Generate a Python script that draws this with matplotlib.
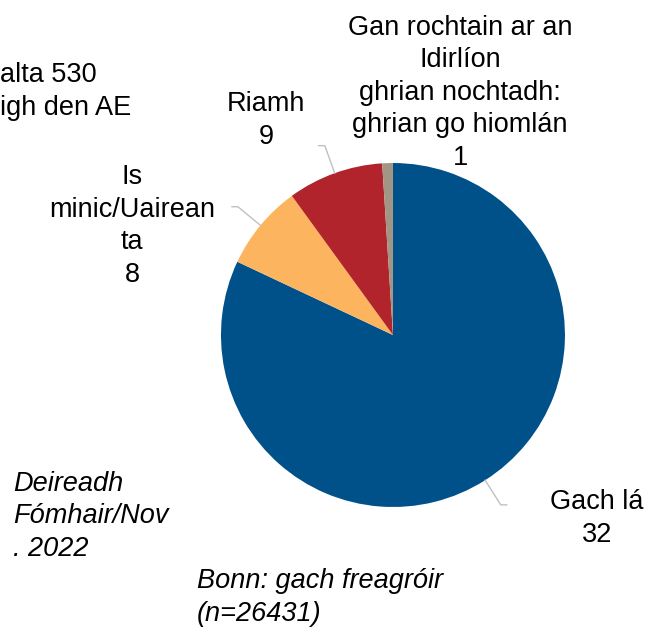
import numpy as np
import matplotlib
matplotlib.use('Agg')
import matplotlib.pyplot as plt

# wedge sizes and the labels as printed on it
categories = ['Gach lá', 'Is\nminic/Uairean\nta', 'Riamh',
              'Gan rochtain ar an\nIdirlíon\nghrian nochtadh:\nghrian go hiomlán']
shares = [82, 8, 9, 1]
shown = ['32', '8', '9', '1']
colors = ['#00508a', '#fdb45e', '#b1242b', '#a39584']

plt.rcParams['font.family'] = ['Liberation Sans', 'DejaVu Sans']

fig = plt.figure(figsize=(6.62, 6.31), dpi=100)
ax = fig.add_axes([0.3338, 0.1965, 0.5196, 0.5452])
wedges, _ = ax.pie(shares, colors=colors, startangle=90, counterclock=False,
                   wedgeprops=dict(linewidth=0))
ax.set_xlim(-1, 1)
ax.set_ylim(-1, 1)
ax.axis('off')

# leader lines for the first three slices
for w in wedges[:3]:
    a = np.deg2rad((w.theta1 + w.theta2) / 2)
    x0, y0 = np.cos(a), np.sin(a)
    x1, y1 = 1.17 * np.cos(a), 1.17 * np.sin(a)
    hook = 0.035 if np.cos(a) > 0 else -0.035
    ax.plot([x0, x1, x1 + hook], [y0, y1, y1], color='#c0c0c0', lw=1,
            clip_on=False)

fs = 19.5
ls = 1.33
# y values are the baseline of the last line of each label
kw = dict(ha='center', va='baseline', fontsize=fs, linespacing=ls)
fig.text(0.9018, 0.1410, categories[0] + '\n' + shown[0], **kw)
fig.text(0.1994, 0.5531, categories[1] + '\n' + shown[1], **kw)
fig.text(0.4018, 0.7718, categories[2] + '\n' + shown[2], **kw)
fig.text(0.6949, 0.7385, categories[3] + '\n' + shown[3], **kw)

fig.text(0.0, 0.8177, 'alta 530\nigh den AE', ha='left', va='baseline',
         fontsize=fs, linespacing=ls)
fig.text(0.0196, 0.1189, 'Deireadh\nFómhair/Nov\n. 2022', ha='left',
         va='baseline', fontsize=fs, style='italic', linespacing=ls)
fig.text(0.2976, 0.0158, 'Bonn: gach freagróir\n(n=26431)', ha='left',
         va='baseline', fontsize=fs, style='italic', linespacing=ls)

fig.savefig('out.png', dpi=100)
